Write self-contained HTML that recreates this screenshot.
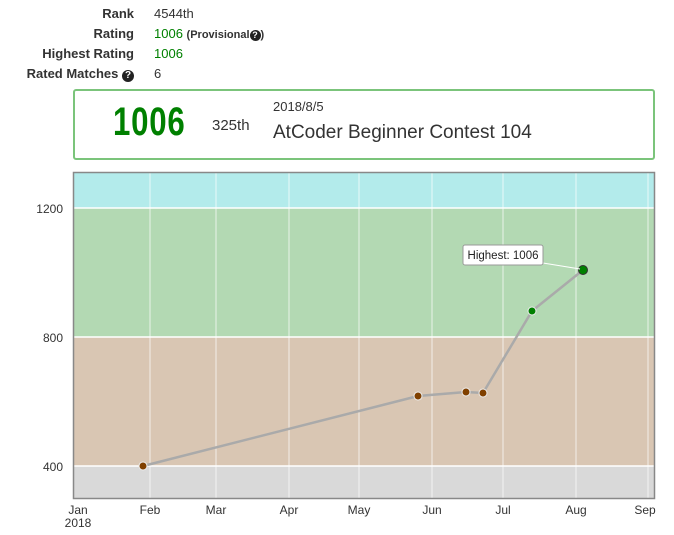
<!DOCTYPE html>
<html><head><style>
body{margin:0;width:674px;height:535px;background:#fff;font-family:"Liberation Sans",sans-serif;color:#333;position:relative;overflow:hidden}
.t{position:absolute;font-size:13px}
.l{right:540px;text-align:right;font-weight:bold;color:#333}
.v{left:154px}
.g{color:#008000}
</style></head><body>
<div class="t l" style="top:6px">Rank</div><div class="t v" style="top:6px">4544th</div>
<div class="t l" style="top:26px">Rating</div><div class="t v" style="top:26px"><span class="g">1006</span> <span style="font-size:11px;font-weight:bold">(Provisional<span style="display:inline-block;width:11px;height:11px;border-radius:50%;background:#222;color:#fff;font-size:9px;text-align:center;line-height:11px">?</span>)</span></div>
<div class="t l" style="top:46px">Highest Rating</div><div class="t v g" style="top:46px">1006</div>
<div class="t l" style="top:66px">Rated Matches <span style="display:inline-block;width:12px;height:12px;border-radius:50%;background:#222;color:#fff;font-size:10px;text-align:center;line-height:12px">?</span></div><div class="t v" style="top:66px">6</div>
<div style="position:absolute;left:73px;top:89px;width:578px;height:67px;border:2px solid #6c6;border-color:#7bc47b;border-radius:3px"></div>
<div style="position:absolute;left:113px;top:100px;font-size:40px;font-weight:bold;color:#008000;transform:scaleX(0.78);transform-origin:left;letter-spacing:1px">1006</div>
<div class="t" style="left:212px;top:117px;font-size:15px">325th</div>
<div class="t" style="left:273px;top:99px;font-size:13px">2018/8/5</div>
<div class="t" style="left:273px;top:122px;font-size:19px">AtCoder Beginner Contest 104</div>
<svg style="position:absolute;left:0;top:0" width="674" height="535">
<rect x="74" y="173" width="581" height="35" fill="#b3ebeb"/>
<rect x="74" y="208" width="581" height="129" fill="#b3d9b3"/>
<rect x="74" y="337" width="581" height="129" fill="#d9c6b3"/>
<rect x="74" y="466" width="581" height="32" fill="#d9d9d9"/>
<g stroke="#fff" stroke-width="1" opacity="0.7">
<line x1="150" y1="173" x2="150" y2="498"/><line x1="216" y1="173" x2="216" y2="498"/><line x1="289" y1="173" x2="289" y2="498"/><line x1="359" y1="173" x2="359" y2="498"/><line x1="432" y1="173" x2="432" y2="498"/><line x1="503" y1="173" x2="503" y2="498"/><line x1="576" y1="173" x2="576" y2="498"/><line x1="648" y1="173" x2="648" y2="498"/>
</g>
<g stroke="#fff" stroke-width="1.5"><line x1="74" y1="208" x2="655" y2="208"/><line x1="74" y1="337" x2="655" y2="337"/><line x1="74" y1="466" x2="655" y2="466"/></g>
<rect x="73.5" y="172.5" width="581" height="326" fill="none" stroke="#888" stroke-width="1.5"/>
<g font-size="12" fill="#333" text-anchor="end"><text x="63" y="213">1200</text><text x="63" y="342">800</text><text x="63" y="471">400</text></g>
<g font-size="12" fill="#333" text-anchor="middle"><text x="78" y="514">Jan</text><text x="78" y="527">2018</text><text x="150" y="514">Feb</text><text x="216" y="514">Mar</text><text x="289" y="514">Apr</text><text x="359" y="514">May</text><text x="432" y="514">Jun</text><text x="503" y="514">Jul</text><text x="576" y="514">Aug</text><text x="645" y="514">Sep</text></g>
<polyline points="143,466 418,396 466,392 483,393 532,311 583,270" fill="none" stroke="#aaa" stroke-width="2.5"/>
<g stroke="#eee" stroke-width="1"><circle cx="143" cy="466" r="4" fill="#804000"/><circle cx="418" cy="396" r="4" fill="#804000"/><circle cx="466" cy="392" r="4" fill="#804000"/><circle cx="483" cy="393" r="4" fill="#804000"/><circle cx="532" cy="311" r="4" fill="#008000"/></g>
<circle cx="583" cy="270" r="4.5" fill="#008000" stroke="#333" stroke-width="1"/>
<line x1="543" y1="263" x2="580" y2="269" stroke="#fff" stroke-width="1"/>
<rect x="463" y="245" width="80" height="20" rx="2" fill="#fff" stroke="#999"/>
<text x="503" y="259" font-size="11.5" text-anchor="middle" fill="#222">Highest: 1006</text>
</svg>
</body></html>
